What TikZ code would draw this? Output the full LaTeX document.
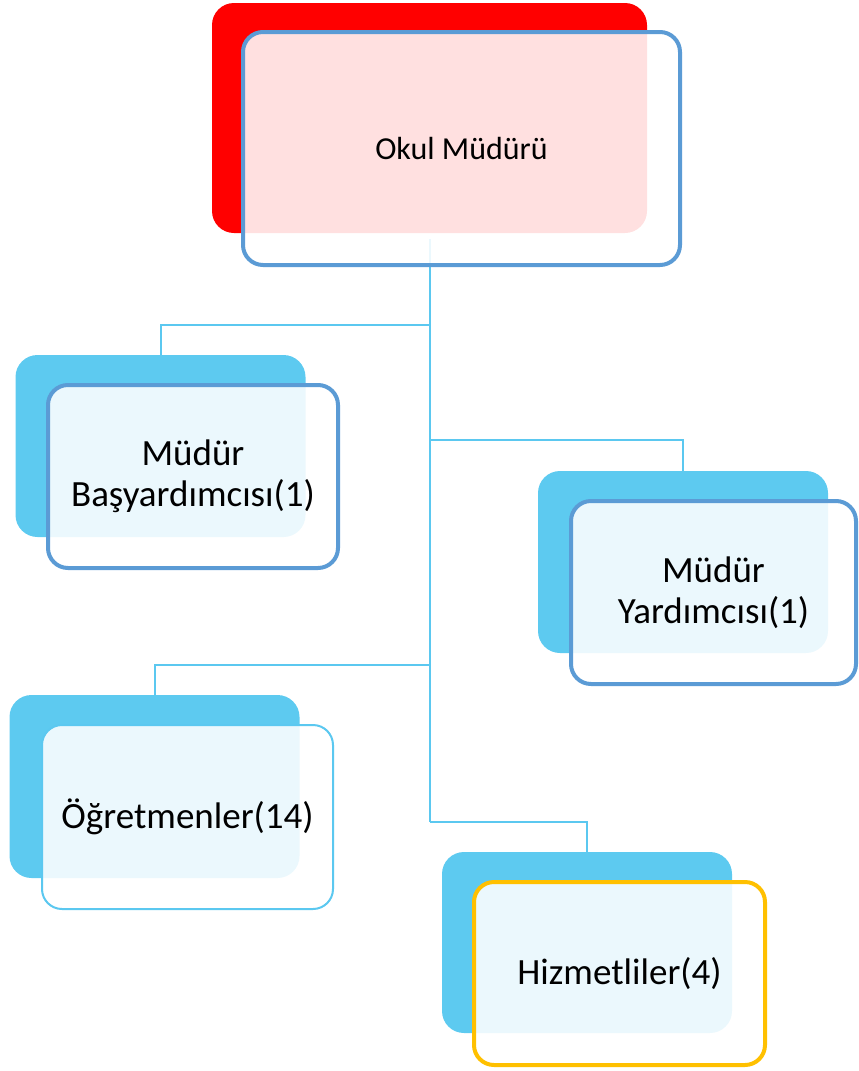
\documentclass[tikz,border=0pt]{standalone}
\usepackage{fontspec}
\setmainfont{Carlito}
\usepackage{tikz}
\usetikzlibrary{positioning}
\definecolor{boxred}{RGB}{255,0,0}
\definecolor{boxblue}{RGB}{93,202,240}
\definecolor{edgeblue}{RGB}{91,155,213}
\definecolor{linkblue}{RGB}{91,200,240}
\definecolor{edgegold}{RGB}{255,192,0}

\begin{document}
\begin{tikzpicture}[x=1pt,y=-1pt,
    back node/.style={rectangle,rounded corners=22pt,inner sep=0pt,
        minimum width=290pt,minimum height=182pt,fill=boxblue},
    front node/.style={rectangle,rounded corners=20pt,inner sep=0pt,
        minimum width=290pt,minimum height=183pt,fill=white,fill opacity=0.88,
        text opacity=1,draw=edgeblue,line width=4pt,align=center,
        font=\fontsize{37}{41}\selectfont},
    link/.style={draw=linkblue,line width=2pt}]
    \useasboundingbox (0,0) rectangle (859,1071);

    \node[back node,fill=boxred,minimum width=435pt,minimum height=230pt] (okulback) at (429.5,118) {};
    \node[back node] (basback) at (160.5,446) {};
    \node[back node] (yrdback) at (683,562) {};
    \node[back node,minimum height=183pt] (ogrback) at (154.5,786.5) {};
    \node[back node,minimum height=181pt] (hizback) at (587,942.5) {};

    \coordinate (top) at ([yshift=-6pt]okulback.south);
    \coordinate (j1) at (429.5,325);
    \coordinate (j2) at (429.5,440);
    \coordinate (j3) at (429.5,665);
    \coordinate (j4) at (429.5,822);

    \path[link] (top) -- (j4);
    \path[link] (j1) -| (basback.north);
    \path[link] (j2) -| (yrdback.north);
    \path[link] (j3) -| (ogrback.north);
    \path[link] (j4) -| (hizback.north);

    \node[front node,minimum width=437pt,minimum height=233pt,font=\fontsize{32}{38}\selectfont] (okul) at (461.5,148.5) {Okul Müdürü};
    \node[front node] (bas) at (193,476.5) {Müdür\\Başyardımcısı(1)};
    \node[front node,minimum width=285pt] (yrd) at (713.5,592.5) {Müdür\\Yardımcısı(1)};
    \node[front node,draw=linkblue,line width=2pt,minimum width=291pt,minimum height=184pt] (ogr) at (187.5,817) {Öğretmenler(14)};
    \node[front node,draw=edgegold,minimum width=291pt] (hiz) at (619.5,973.5) {Hizmetliler(4)};
\end{tikzpicture}
\end{document}
